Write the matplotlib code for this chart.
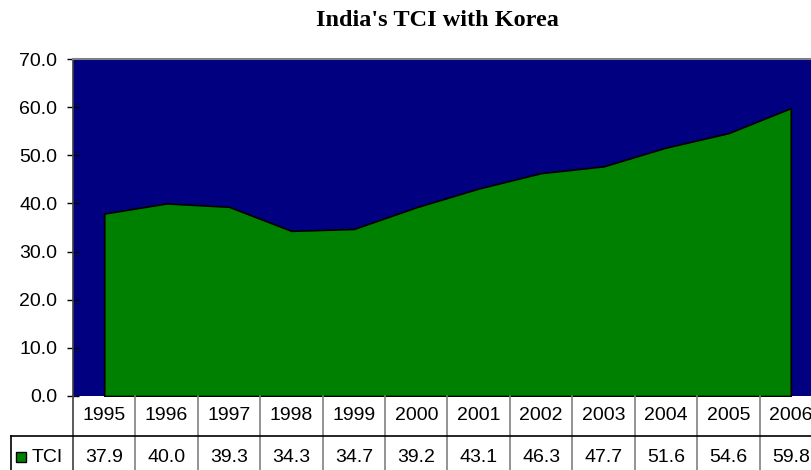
import matplotlib.pyplot as plt
import matplotlib.transforms as mtransforms
from matplotlib.patches import Rectangle

years = ["1995", "1996", "1997", "1998", "1999", "2000",
         "2001", "2002", "2003", "2004", "2005", "2006"]
tci = [37.9, 40.0, 39.3, 34.3, 34.7, 39.2, 43.1, 46.3, 47.7, 51.6, 54.6, 59.8]
series_name = "TCI"
title = "India's TCI with Korea"

navy = "#000080"
green = "#008000"
grid_grey = "#808080"


def main():
    plt.rcParams["font.family"] = ["Liberation Sans", "DejaVu Sans"]

    fig = plt.figure(figsize=(8.12, 4.70), dpi=100)
    W, H = 812, 470
    left, right, top, bottom = 73, 822, 59, 396
    ax = fig.add_axes([left / W, (H - bottom) / H,
                       (right - left) / W, (bottom - top) / H])
    ax.set_facecolor(navy)

    x = list(range(len(years)))
    ax.fill_between(x, tci, 0, facecolor=green, edgecolor="black",
                    linewidth=1.2, zorder=2)

    ax.set_xlim(-0.5, len(years) - 0.5)
    ax.set_ylim(0, 70)
    ax.set_yticks(range(0, 71, 10))
    ax.set_yticklabels([f"{v:.1f}" for v in range(0, 71, 10)], fontsize=14)
    ax.tick_params(axis="y", direction="inout", length=8.6, width=1,
                   color="black", pad=7)
    ax.set_xticks([])

    for side in ["right", "bottom"]:
        ax.spines[side].set_visible(False)
    ax.spines["top"].set_color(grid_grey)
    ax.spines["top"].set_linewidth(1.5)
    ax.spines["left"].set_color("#404040")
    ax.spines["left"].set_linewidth(1.2)

    fig.text(437 / W, 1 - 20 / H, title, ha="center", va="center",
             fontsize=17.5, fontweight="bold", family="Liberation Serif")

    # data table under the chart
    trans = mtransforms.blended_transform_factory(ax.transData, ax.transAxes)
    ph = bottom - top
    row1 = -40 / ph
    row2 = -84 / ph
    y_year = -19 / ph
    y_val = -61 / ph

    for i, (yr, v) in enumerate(zip(years, tci)):
        ax.text(i, y_year, yr, transform=trans, ha="center", va="center",
                fontsize=14, clip_on=False)
        ax.text(i, y_val, f"{v:.1f}", transform=trans, ha="center",
                va="center", fontsize=14, clip_on=False)

    for i in range(len(years) + 1):
        ax.plot([i - 0.5, i - 0.5], [0, row2], transform=trans,
                color=grid_grey if i else "#404040", linewidth=1.2,
                clip_on=False)

    # horizontal line between years and values, reaching the legend cell
    col_w = (right - left) / len(years)
    x_leg = -0.5 - (left - 11) / col_w
    ax.plot([x_leg, len(years) - 0.5], [row1, row1], transform=trans,
            color="black", linewidth=1.2, clip_on=False)
    ax.plot([x_leg, x_leg], [row1, row2], transform=trans,
            color="black", linewidth=1.2, clip_on=False)

    # legend key and series label
    key_x = -0.5 - (left - 16) / col_w
    key_w = 10 / col_w
    key_h = 10 / ph
    ax.add_patch(Rectangle((key_x, y_val - key_h / 2), key_w, key_h,
                           transform=trans, facecolor=green,
                           edgecolor="black", linewidth=1, clip_on=False))
    ax.text(-0.5 - (left - 32) / col_w, y_val, series_name, transform=trans,
            ha="left", va="center", fontsize=14, clip_on=False)

    fig.savefig("out.png", dpi=100)


if __name__ == "__main__":
    main()
